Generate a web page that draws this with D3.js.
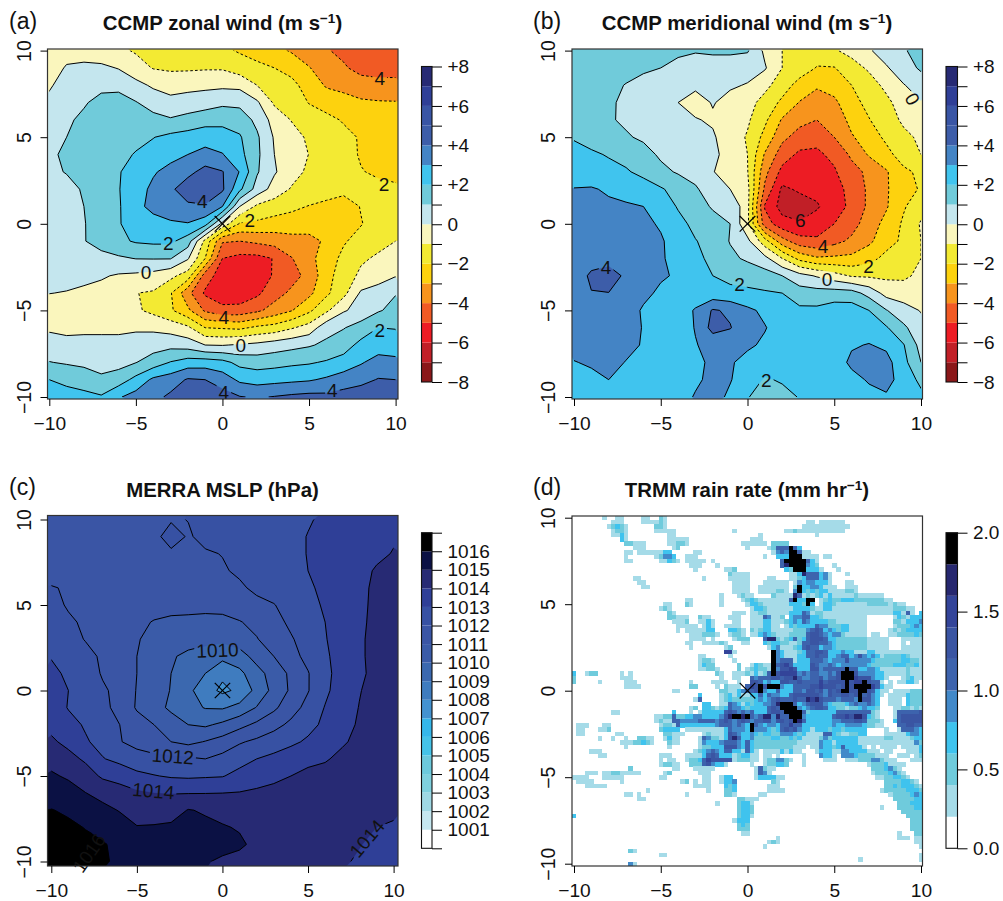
<!DOCTYPE html>
<html>
<head>
<meta charset="utf-8">
<script src="https://cdn.jsdelivr.net/npm/d3@7"></script>
<style>
body { margin: 0; background: #fff; }
text { font-family: "Liberation Sans", Arial, sans-serif; fill: #111; }
</style>
</head>
<body>
<script>
// rows run from y=10 down to y=-10, columns from x=-10 to x=10, every 1 degree
var zonalWind = [
[-.4,-.4,-.5,-.6,-.8,-1.1,-1.2,-1.3,-1.4,-1.6,-1.8,-2.1,-2.4,-2.7,-3.1,-3.5,-3.9,-4.3,-4.5,-4.6,-4.7],
[-.5,.1,.25,.2,-.05,-.6,-1.05,-1.15,-1.15,-1.1,-1.1,-1.5,-1.75,-2,-2.35,-2.95,-3.5,-3.85,-4.4,-4.5,-4.5],
[-.1,.35,.6,.75,.7,.3,-.15,-.4,-.28,-.23,-.2,-.25,-1,-1.55,-1.72,-2.43,-3.1,-3.25,-3.45,-3.6,-3.6],
[.2,.45,.9,1.3,1.45,1.05,.6,.3,.4,.55,.8,.75,.15,-1.15,-1.33,-2.05,-2.45,-2.68,-2.88,-2.93,-2.95],
[.55,.85,1.2,1.5,1.6,1.5,1.3,1.1,1.35,1.6,1.7,1.55,.75,-.4,-1.05,-1.4,-1.7,-2.1,-2.4,-2.55,-2.6],
[.75,1,1.3,1.55,1.7,1.8,1.97,2.25,2.4,2.6,2.45,2.1,1.15,-.1,-.65,-1.15,-1.4,-1.7,-2.1,-2.4,-2.5],
[.85,1.15,1.4,1.6,1.8,2.05,2.35,2.7,3,3.3,3.05,2.3,1.2,0,-.5,-1.02,-1.3,-1.6,-2.1,-2.4,-2.5],
[.8,1.05,1.35,1.6,1.95,2.3,2.9,3.3,3.7,4.35,4.05,2.95,1.1,.1,-.6,-1.2,-1.5,-1.65,-1.95,-2.15,-2.25],
[.4,.7,1.1,1.5,1.95,2.6,3.2,3.8,4.6,4.7,4.15,2.2,.6,-.4,-1.1,-1.25,-1.45,-1.7,-1.7,-1.75,-1.85],
[.35,.6,1,1.4,1.9,2.7,3.3,3.6,3.8,3.9,3,0,-1.2,-1.5,-1.75,-2.05,-2.3,-2.5,-1.95,-1.6,-1.5],
[.3,.55,.95,1.45,1.95,2.3,2.6,2.85,2.95,2.4,-.3,-2.1,-2.2,-2.4,-2.55,-2.7,-2.75,-2.55,-2.05,-1.6,-1.3],
[.25,.5,.95,1.4,1.8,2.1,2.2,2.2,1.5,-1.3,-3.9,-4,-3.8,-3.6,-3.3,-3.2,-2.9,-2.1,-1.65,-1.3,-1],
[.5,.5,.6,.67,.85,1.03,1.05,1.05,.1,-2,-5,-5.3,-5.3,-4.95,-4.05,-3.3,-2.5,-1.75,-1.15,-.85,-.7],
[.4,.35,.2,.1,-.1,-.2,-.35,-.75,-1.45,-4.5,-5.5,-5.7,-5.5,-4.9,-4.35,-3.7,-2.35,-1.5,-.8,-.4,-.05],
[.02,-.05,-.15,-.3,-.4,-.98,-1.1,-1.9,-3.7,-5.15,-5.6,-5.7,-5.2,-4.4,-3.8,-3.25,-2.2,-1.3,.15,.4,.95],
[-.5,-.55,-.5,-.6,-.65,-.85,-1.25,-1.85,-2.8,-4.15,-4.7,-4.6,-4.2,-3.6,-3.05,-2.2,-1.2,-.1,.35,.9,1.3],
[-.15,-.25,-.2,-.2,-.2,-.15,-.2,-.4,-.8,-2,-2.1,-2.2,-1.8,-1.6,-1.1,-.6,.65,.95,1.4,2,1.95],
[.43,.3,.3,.3,.3,.45,.6,.7,.55,0,-.05,.1,.25,.5,.7,.9,1.2,1.55,2.3,2.5,2.5],
[1.03,.9,.8,.6,.65,.97,1.45,2.05,2.45,2.5,2.3,1.7,1.55,1.65,1.8,1.9,2.1,2.4,2.9,3.4,3.25],
[2,1.75,1.5,1.2,1.5,2.3,3.2,3.5,4.1,4,3.55,2.8,2.6,2.7,2.8,2.9,3.15,3.5,3.75,4.05,4],
[2.6,2.4,2.3,2.1,2.9,3.4,3.7,4.2,4.7,4.5,4.4,4.05,3.9,4.05,4.2,4.3,4.25,4.4,4.5,4.7,4.6]
];

var meridionalWind = [
[1.5,1.6,1.7,1.6,1.5,1.35,1.1,1.05,1.15,1.2,1.1,-.2,-1,-1.4,-1.6,-1.1,-.7,-.1,.45,.9,1.4],
[1.6,1.65,1.6,1.4,1.15,1,.85,.7,.55,.4,.3,.1,-1,-1.5,-2.05,-2.05,-1.4,-.85,-.1,.55,1.15],
[1.45,1.4,1.3,.95,.7,.5,.3,.15,.15,.1,-.05,-.7,-1.55,-2.35,-2.85,-2.6,-2,-1.45,-.75,-.05,.45],
[1.35,1.3,1.15,.8,.6,.35,0,-.3,.05,-.25,-.6,-1.4,-2.2,-3.05,-3.55,-3.2,-2.35,-1.7,-1.25,-.5,-.05],
[1.25,1.2,1.1,.85,.6,.4,.2,.05,-.1,-.55,-.85,-1.8,-3.1,-3.7,-4,-3.65,-2.7,-2.05,-1.4,-.85,-.25],
[1.95,1.75,1.5,1.1,.85,.6,.45,.3,.1,-.45,-1.1,-2.3,-3.75,-4.4,-4.75,-4,-3.1,-2.5,-1.8,-1.2,-.85],
[2.2,2.1,1.95,1.7,1.35,.85,.65,.4,.15,-.25,-1,-3.1,-4.5,-5.2,-5.15,-4.8,-3.8,-2.9,-2.3,-1.55,-1],
[2.35,2.3,2.2,2.1,1.75,1.25,.9,.55,.05,-.5,-.95,-3.7,-5.3,-5.6,-5.6,-5.1,-4.4,-3.75,-3.1,-2.2,-1.8],
[3.05,3.1,2.85,2.7,2.45,2.1,1.65,1.15,.35,0,-.7,-4.2,-6.2,-5.85,-5.75,-5.3,-4.75,-3.8,-3.1,-2.4,-1.9],
[3.2,3.25,3.2,3.1,3,2.7,1.9,1.4,.9,.9,-.7,-5.1,-6.4,-6.5,-6.1,-5.5,-4.75,-3.8,-3.1,-2.1,-1.4],
[3.3,3.45,3.45,3.35,3.2,2.9,2.35,1.7,1.35,1,-.8,-4.5,-5.6,-5.9,-5.6,-5,-4.4,-3.5,-2.7,-1.85,-.9],
[3.25,3.4,3.5,3.5,3.3,3.1,2.6,2.05,1.6,.95,.25,-1.6,-3.6,-4.6,-4.8,-4.3,-3.8,-3.2,-2.4,-1.8,-1],
[3.2,3.4,3.6,3.55,3.35,3.1,2.7,2.25,1.75,1.2,.85,.3,-1,-2.3,-2.85,-2.8,-2.75,-2.35,-1.7,-1.35,-1],
[3.2,4.25,4.5,3.8,3.35,3.1,2.9,2.45,2,1.8,1.6,1.45,1,.35,-.1,-.6,-1.1,-1.15,-1.2,-1.2,-.75],
[3.2,3.95,3.98,3.6,3.2,2.85,2.55,2.4,2.35,2.2,2.2,2.1,2,1.45,1.4,1.45,1.4,.65,-.35,-.45,-.6],
[3.3,3.5,3.6,3.4,2.9,2.6,2.45,3.1,4.1,3.85,3.2,2.8,2.6,2.2,2.2,2.5,2.5,2,1.05,.35,-.05],
[3.4,3.5,3.55,3.4,2.95,2.6,2.5,3.05,4.35,4.05,3.4,3.05,2.6,2.55,2.55,2.6,2.6,2.5,2.1,1.2,.3],
[3.45,3.55,3.5,3.35,2.9,2.6,2.5,2.95,3.3,3.3,3.15,2.85,2.6,2.5,2.5,2.6,2.9,3.05,2.8,2.05,.65],
[2.95,3.15,3.4,2.95,2.6,2.4,2.4,2.7,3.25,3.1,2.7,2.5,2.35,2.35,2.4,2.5,3.2,3.5,3.35,2.3,1],
[2.5,2.7,3,2.7,2.5,2.35,2.3,2.8,3.3,3.05,2.55,1.9,2.1,2.3,2.45,2.6,2.7,3.1,3.4,2.5,1.8],
[2.4,2.5,2.55,2.5,2.4,2.3,2.5,3.1,3.3,2.85,2.05,1.6,1.7,2.05,2.4,2.5,2.6,2.7,2.85,2.5,2.2]
];

// hPa above 1000
var mslpAbove1000 = [
[11.6,11.6,11.6,11.6,11.65,11.7,11.75,11.9,12.02,12.2,12.3,12.4,12.5,12.6,12.75,12.95,13.1,13.2,13.3,13.4,13.5],
[11.6,11.6,11.6,11.65,11.7,11.75,11.7,12.45,11.9,12.25,12.4,12.5,12.6,12.7,12.85,13.02,13.15,13.3,13.45,13.65,13.9],
[11.5,11.5,11.55,11.6,11.65,11.7,11.75,11.8,11.85,11.9,12.03,12.35,12.55,12.7,12.85,13.02,13.2,13.35,13.55,13.8,14.05],
[11.35,11.4,11.45,11.5,11.55,11.6,11.65,11.7,11.75,11.85,11.9,12.15,12.4,12.6,12.8,13,13.2,13.4,13.7,14.1,14.15],
[12.1,11.85,11.7,11.65,11.6,11.55,11.5,11.5,11.55,11.65,11.7,11.85,12.2,12.5,12.8,12.9,13.15,13.4,13.75,14.2,14.3],
[12.3,11.9,11.75,11.65,11.55,11.45,11.35,11.25,11.2,11.25,11.3,11.5,11.75,11.95,12.45,12.75,13.1,13.4,13.8,14.2,14.3],
[12.55,12.15,11.85,11.7,11.45,11.2,10.95,10.85,10.85,10.75,10.75,10.95,11.25,11.65,12.2,12.65,13,13.4,13.85,14.2,14.35],
[12.75,12.35,11.95,11.7,11.4,11.05,10.8,10.55,10.35,10.2,10.2,10.5,10.95,11.45,11.9,12.45,12.95,13.4,13.9,14.2,14.4],
[12.95,12.65,12.3,11.85,11.55,11,10.65,10.1,9.8,9.7,9.3,9.6,10.35,11,11.7,12.25,12.85,13.4,13.9,14.2,14.4],
[13.2,12.85,12.55,11.9,11.55,11,10.6,10,9.45,9,8.2,8.75,9.65,10.4,11.2,11.95,12.75,13.4,13.8,14.3,14.45],
[13.4,13,12.7,12.15,11.7,10.95,10.5,9.95,9.25,8.4,7.8,8.2,9.3,10.3,11.15,11.95,12.8,13.5,13.95,14.35,14.5],
[13.5,12.95,12.55,12.25,11.7,10.9,10.4,9.8,9.3,8.95,8.9,9.3,10.05,10.8,11.6,12.3,13.05,13.55,14.03,14.4,14.5],
[13.75,13.3,12.9,12.6,12,11.4,11,10.5,10,9.85,10.2,10.7,11.2,11.7,12.2,12.7,13.2,13.7,14.1,14.35,14.5],
[14.15,13.75,13.1,12.7,12.05,11.7,11.35,11,10.75,11.05,11.4,11.9,12.2,12.5,12.8,13.15,13.55,13.9,14.2,14.4,14.5],
[14.75,14.3,13.85,13.05,12.75,12.4,12.3,12.2,12.15,12,12.3,12.65,13,13.25,13.55,13.8,13.92,14.2,14.35,14.45,14.55],
[15.1,14.9,14.45,13.85,13.6,13.25,13.05,12.9,12.85,12.9,12.95,13.3,13.6,13.8,14,14.2,14.3,14.4,14.5,14.55,14.6],
[15.4,15.3,15.02,14.7,14.45,14.15,14,13.97,13.97,13.98,14,14.05,14.15,14.25,14.35,14.4,14.5,14.55,14.6,14.65,14.7],
[16.05,15.8,15.55,15.25,14.95,14.55,14.45,14.5,15.05,14.9,14.8,14.75,14.7,14.7,14.7,14.7,14.65,14.6,14.5,14.3,14.15],
[16.5,16.25,15.95,15.7,15.4,15.05,15.1,15.2,15.3,15.2,15.05,14.95,14.8,14.7,14.6,14.55,14.45,14.35,14.2,14,13.9],
[16.7,16.5,16.3,16.1,15.7,15.4,15.35,15.35,15.3,15.3,15.2,15.1,14.85,14.7,14.55,14.45,14.35,14.2,14.05,13.75,13.75],
[16.8,16.6,16.45,16.1,15.85,15.6,15.5,15.4,15.3,15.05,14.9,14.8,14.7,14.55,14.45,14.35,14.25,14.15,13.85,13.7,13.6]
];

// TRMM cells on a 0.25 degree grid, one entry per row from y=10 down.
// each run is [first column, band digits], bands: 0 = 0-0.2 ... 9 = 1.8-2.0 mm/hr
var rainRuns = [
[[7,"1"],[10,"11"],[16,"11"],[20,"21"]],
[[9,"111"],[16,"1111"],[20,"21"],[54,"11"],[57,"111111"]],
[[8,"12321"],[19,"221"],[53,"11111111111"]],
[[9,"1221"],[19,"11111"],[37,"1"],[49,"112"],[52,"11111111111"]],
[[9,"1131"],[22,"11"],[43,"1"],[56,"1"]],
[[11,"31"],[22,"11111"],[41,"111"]],
[[12,"22111"],[22,"11221"],[39,"11"],[41,"1111"],[46,"2222"]],
[[14,"111"],[23,"12"],[40,"1"],[45,"12"],[47,"555"],[50,"953"]],
[[12,"11"],[15,"111111"],[21,"33"],[28,"11"],[46,"1"],[47,"45499511"]],
[[12,"1"],[19,"12443"],[26,"111"],[44,"1"],[47,"333"],[50,"999"],[53,"1111"],[58,"11"]],
[[12,"11"],[20,"11321"],[26,"11111"],[32,"1"],[48,"599999"],[54,"531"]],
[[27,"111"],[33,"1"],[48,"589999"],[54,"432"],[60,"1"]],
[[28,"1"],[35,"112"],[49,"32999"],[54,"3331"],[61,"1"]],
[[36,"21111"],[50,"11"],[52,"38555341"],[63,"1"]],
[[14,"11"],[30,"1"],[36,"11111"],[45,"11"],[50,"11"],[52,"23555341"]],
[[15,"11"],[37,"1111"],[44,"111111"],[51,"143443331"],[63,"11"]],
[[16,"11"],[37,"1111"],[43,"1111111"],[51,"2933443111"],[63,"111"]],
[[37,"1111"],[43,"1111221"],[51,"49323233"],[59,"1111221"]],
[[34,"1"],[38,"121"],[41,"1"],[46,"21111"],[51,"85121231"],[59,"3111112"],[66,"111111"]],
[[26,"11"],[34,"1"],[39,"12"],[41,"32"],[43,"1111111"],[50,"593399"],[57,"12322333"],[65,"2222222"],[72,"11"]],
[[21,"11"],[26,"21"],[34,"1"],[40,"1"],[41,"33"],[43,"2111111"],[50,"333293"],[57,"13321"],[62,"111111"],[68,"2222212"],[75,"11"]],
[[20,"121"],[41,"1332111111"],[51,"333321133"],[60,"1111111111"],[70,"111122211"]],
[[22,"21"],[37,"111"],[41,"112211111"],[50,"33354122"],[58,"1111111111111111"],[74,"33151"],[80,"3"]],
[[22,"22111"],[29,"211"],[36,"111"],[41,"111"],[44,"54"],[46,"112"],[50,"34455"],[55,"33211"],[60,"11111111"],[74,"1321333"]],
[[23,"1112"],[29,"1131"],[37,"11"],[41,"111"],[44,"33"],[46,"1112"],[50,"34354"],[55,"333322"],[61,"1111111"],[74,"2213334"]],
[[24,"11111"],[30,"1"],[31,"31"],[35,"1111"],[41,"111"],[44,"3311"],[49,"1"],[50,"323"],[53,"33354422"],[61,"2331111"],[74,"1222343"]],
[[24,"1"],[26,"11111"],[31,"33"],[36,"3321"],[41,"21233"],[46,"11111"],[51,"2224565"],[58,"343233"],[64,"1111"],[73,"12123333"]],
[[27,"111"],[30,"2221"],[36,"1221"],[41,"113432"],[47,"111"],[50,"2222"],[54,"56654"],[59,"34421"],[64,"1111"],[69,"11"],[73,"11222232"]],
[[27,"1111"],[32,"1"],[37,"1222"],[44,"588"],[47,"2123"],[51,"52356665"],[59,"332222222"],[68,"11111"],[76,"11111"]],
[[26,"11"],[30,"1111"],[34,"21"],[39,"11"],[44,"3233"],[48,"2211"],[52,"255665"],[58,"543"],[61,"2222222"],[68,"11111"],[76,"1"],[78,"111"]],
[[27,"1"],[35,"12"],[45,"1341"],[49,"11"],[51,"2356"],[55,"55344"],[60,"3"],[61,"2222222"],[68,"11111"],[76,"11111"]],
[[35,"77"],[37,"1"],[46,"9"],[47,"43"],[49,"111"],[52,"23556"],[57,"65333"],[62,"433"],[65,"111"],[68,"33"],[70,"11111111111"]],
[[29,"11"],[36,"1"],[46,"943"],[49,"111"],[52,"3355"],[56,"65533"],[61,"45534"],[66,"64343"],[71,"12222"],[76,"32111"]],
[[29,"1221"],[37,"1"],[46,"94555"],[51,"1333"],[55,"55543"],[60,"44464"],[65,"44443"],[70,"222222"],[76,"33221"]],
[[29,"1322"],[38,"2"],[41,"13211"],[46,"95675"],[51,"3333"],[55,"65445"],[60,"43444"],[65,"4443"],[69,"22222"],[74,"33322"],[79,"31"]],
[[29,"11221"],[38,"2"],[40,"1"],[41,"23221"],[46,"94667"],[51,"6333"],[55,"66455"],[60,"55595"],[65,"53344"],[70,"3"],[71,"111111"],[77,"2111"]],
[[0,"3"],[3,"122"],[11,"1"],[13,"1"],[33,"21"],[37,"1112"],[41,"13125"],[46,"96777"],[51,"7454"],[55,"55445"],[60,"46999"],[65,"64444"],[70,"33"],[72,"111112111"]],
[[0,"2"],[11,"111"],[34,"1"],[37,"11"],[41,"54555"],[46,"66566"],[51,"8544"],[55,"55645"],[60,"56999"],[65,"76664"],[70,"33"],[72,"1"],[76,"12311"]],
[[0,"2"],[6,"1"],[12,"111"],[27,"1"],[32,"1111"],[38,"1"],[41,"66534"],[46,"33665"],[51,"5655"],[55,"55756"],[60,"66696"],[65,"77965"],[70,"51"],[73,"1"],[75,"11331"]],
[[12,"1111"],[27,"22"],[33,"1"],[35,"2111"],[40,"5"],[41,"76969"],[46,"99433"],[51,"5555"],[55,"66766"],[60,"65696"],[65,"99997"],[70,"5311"]],
[[23,"11"],[34,"22113"],[39,"45"],[41,"56943"],[46,"35333"],[51,"5546"],[55,"65646"],[60,"56996"],[65,"69965"],[70,"311"],[74,"11112"],[79,"22"]],
[[29,"3"],[34,"1231"],[38,"311"],[41,"33535"],[46,"44335"],[51,"6666"],[55,"66546"],[60,"55665"],[65,"69564"],[70,"31"],[73,"1111"],[77,"3222"]],
[[28,"15"],[34,"1232222"],[41,"23434"],[46,"56555"],[51,"6558"],[55,"78655"],[60,"54555"],[65,"49664"],[70,"3"],[73,"111"],[77,"3222"]],
[[30,"33"],[34,"1154313"],[41,"23344"],[46,"58999"],[51,"5345"],[55,"66643"],[60,"22234"],[65,"54454"],[70,"3"],[73,"111"],[77,"3222"]],
[[27,"12"],[30,"3321"],[34,"2354432"],[41,"33335"],[46,"65999"],[51,"9434"],[55,"56653"],[60,"32212"],[65,"23433"],[70,"2"],[74,"1122121"]],
[[9,"11"],[23,"3"],[27,"1"],[29,"13333"],[34,"3565454"],[41,"53335"],[46,"66599"],[51,"9952"],[55,"33333"],[60,"35555"],[65,"55552"],[70,"1"],[74,"1"],[75,"555556"]],
[[19,"11225"],[24,"22334433"],[32,"33"],[34,"4689989"],[41,"54588"],[46,"48559"],[51,"9943"],[55,"33333"],[60,"56676"],[65,"88632"],[70,"1"],[74,"1"],[75,"566666"]],
[[19,"12115"],[24,"54444"],[29,"55554"],[34,"5654565"],[41,"45566"],[46,"46656"],[51,"9853"],[55,"33333"],[60,"44555"],[65,"66522"],[70,"21"],[74,"3"],[75,"566666"]],
[[1,"111"],[7,"11"],[20,"12215"],[25,"33333333"],[33,"4"],[34,"5554543"],[41,"95434"],[46,"43557"],[51,"5533"],[55,"33333"],[60,"43344"],[65,"44322"],[70,"11"],[75,"556655"]],
[[1,"11"],[6,"112"],[20,"23333"],[26,"11111111"],[34,"1354443"],[41,"94443"],[46,"23565"],[51,"6433"],[55,"13332"],[60,"33233"],[65,"333"],[72,"1"],[75,"155543"]],
[[1,"11"],[10,"11"],[21,"22111"],[30,"12"],[32,"111"],[35,"365433"],[41,"43233"],[46,"22444"],[51,"3231"],[55,"11155"],[60,"32112"],[65,"233"],[72,"11111"],[77,"3443"]],
[[6,"1"],[9,"1"],[12,"1"],[15,"2211"],[21,"1311"],[29,"15422"],[34,"1368533"],[41,"42222"],[46,"33223"],[51,"2311"],[55,"11242"],[60,"33333"],[65,"3111111"],[72,"221111233"]],
[[11,"111"],[14,"22321"],[22,"211"],[29,"14333"],[34,"4555435"],[41,"32222"],[46,"22222"],[51,"2111"],[55,"11433"],[60,"13333"],[65,"3111111"],[72,"111111142"]],
[[12,"1"],[22,"1"],[29,"12233"],[34,"3666435"],[41,"32222"],[46,"22222"],[51,"1110"],[55,"11433"],[60,"23533"],[65,"33101"],[71,"1111"],[76,"11113"]],
[[4,"111"],[28,"12345"],[33,"43553315"],[41,"31"],[44,"11113131"],[52,"1"],[56,"13331"],[61,"14433"],[66,"33111"],[72,"11"],[77,"1113"]],
[[6,"11"],[20,"111"],[26,"1111"],[30,"35653"],[35,"33123"],[40,"3"],[41,"11"],[44,"11"],[47,"1"],[53,"1"],[57,"4331"],[62,"4443"],[66,"2222111"],[75,"111"],[79,"12"]],
[[20,"1"],[22,"11"],[26,"12235"],[31,"766666"],[37,"1222"],[41,"11"],[44,"12244"],[49,"21"],[53,"1"],[58,"111"],[63,"11122"],[68,"24421"],[73,"11"],[78,"111"]],
[[20,"12211"],[27,"2225"],[31,"64331"],[41,"1"],[44,"122332"],[53,"1"],[68,"122231111"]],
[[13,"2"],[23,"11"],[28,"11111"],[42,"15211"],[69,"2223421"]],
[[3,"111"],[7,"112211111"],[21,"12"],[29,"111"],[42,"1541"],[69,"12223421"]],
[[0,"1111"],[7,"11111"],[20,"11"],[30,"11"],[34,"133"],[42,"1333311"],[70,"11223321"]],
[[1,"1111"],[11,"1"],[25,"12"],[28,"1"],[30,"11"],[34,"1334"],[46,"21"],[72,"22223321"]],
[[3,"11111"],[28,"1111"],[35,"323"],[45,"111"],[72,"223233321"]],
[[17,"1"],[31,"1"],[35,"223"],[45,"1111"],[71,"1222223332"]],
[[12,"11"],[15,"1"],[26,"1"],[35,"221"],[43,"11"],[73,"12222343"]],
[[15,"11"],[38,"221"],[41,"11"],[74,"2222233"]],
[[33,"1"],[38,"233"],[41,"1"],[75,"222333"]],
[[38,"233"],[41,"2"],[71,"1"],[75,"222233"]],
[[38,"233"],[41,"2"],[76,"22222"]],
[[0,"3"],[38,"233"],[41,"1"],[77,"2222"]],
[[37,"1333"],[78,"222"]],
[[38,"232"],[78,"222"]],
[[38,"222"],[78,"222"]],
[[39,"11"],[75,"1"],[79,"22"]],
[[47,"1"],[75,"111"],[79,"11"]],
[[45,"121"],[79,"11"]],
[[44,"1"],[80,"1"]],
[[13,"21"]],
[[20,"11"],[80,"1"]],
[[66,"1"],[80,"1"]],
[[13,"41"]]
];

// contour labels: x, y, text, angle
var zonalLabels = [[9.08,8.4,"4",0],[9.33,2.31,"2",0],[1.58,.23,"2",0],[-1.17,1.29,"4",0],[-3.13,-1.12,"2",0],[-4.42,-2.81,"0",0],[.08,-5.38,"4",0],[1.06,-7.02,"0",0],[9.08,-6.12,"2",0],[.08,-9.73,"4",0],[6.35,-9.62,"4",0]];
var meridionalLabels = [[9.52,7.21,"0",60],[3.04,.23,"6",0],[4.35,-1.27,"4",0],[6.98,-2.46,"2",0],[4.58,-3.19,"0",0],[-.46,-3.46,"2",0],[-8.15,-2.5,"4",0],[1.08,-9,"2",0]];
var mslpLabels = [[-.29,2.36,"1010",-2],[-2.9,-3.84,"1012",4],[-4.04,-5.87,"1014",5],[8.44,-8.65,"1014",-50],[-7.8,-9.5,"1016",-55]];

var windColors = ["#8a1719","#c11f27","#ed1c24","#f15a24","#f7941d","#fdd20e","#f3ea33","#faf6bd","#c4e6ee","#70cbda","#40c4ee","#4484c5","#3d5da9","#3955a5","#2f3f97","#272a74"];
var mslpColors = ["#ffffff","#c5e7f0","#9fd8e4","#7fd0de","#6cc9dc","#45c3e8","#35b7ea","#4392d0","#3f7cbf","#3b68af","#3a5ba8","#3a55a5","#3751a3","#2f3f97","#272a74","#0b1144","#000000"];
var rainColors = ["#ffffff","#a5dbe8","#6fcbdc","#3fc3ee","#4289c9","#3d63ad","#3a55a3","#334499","#26276f","#000000"];

var windLevels = d3.range(-8, 9);
var mslpLevels = d3.range(0, 18);
var rainLevels = d3.range(0, 11).map(function(d){ return d/5; });
var axisTicks = [-10, -5, 0, 5, 10];

var fmt = function(d){ return d < 0 ? "\u2212" + (-d) : "" + d; };
var windTick = function(d){ return d % 2 ? "" : (d > 0 ? "+" + d : fmt(d)); };
var mslpTick = function(d){ return d >= 1 && d <= 16 ? "" + (1000 + d) : ""; };
var rainTick = function(d){ return d3.format(".1f")(d); };

var panels = [
  {id:"a", title:"CCMP zonal wind (m s", sup:"\u22121", tail:")", grid:zonalWind, labels:zonalLabels, colors:windColors, levels:windLevels, barTicks:windLevels, tick:windTick,
   box:[47.5,398,49,399], xr:[49.3,395.6], yr:[50.6,397], bar:[421.5,432,66.5,382], tx:222.5, ty:30, lx:9, ly:29},
  {id:"b", title:"CCMP meridional wind (m s", sup:"\u22121", tail:")", grid:meridionalWind, labels:meridionalLabels, colors:windColors, levels:windLevels, barTicks:windLevels, tick:windTick,
   box:[572,922.5,49,399], xr:[574,921], yr:[50.6,397], bar:[946,957.5,66.5,382], tx:747, ty:30, lx:533, ly:29},
  {id:"c", title:"MERRA MSLP (hPa)", sup:"", tail:"", grid:mslpAbove1000, labels:mslpLabels, colors:mslpColors, levels:mslpLevels, barTicks:mslpLevels, tick:mslpTick,
   box:[47.5,398,515.5,866], xr:[51.3,393.6], yr:[519.5,861.5], bar:[421.5,432,532.7,848.3], tx:222.5, ty:496.5, lx:9, ly:495},
  {id:"d", title:"TRMM rain rate (mm hr", sup:"\u22121", tail:")", rain:rainRuns, colors:rainColors, levels:rainLevels, barTicks:[0,.5,1,1.5,2], tick:rainTick,
   box:[572,922.5,516,866], xr:[574,921], yr:[517.7,863.7], bar:[946,957.5,532.7,848.3], tx:747, ty:496.5, lx:533, ly:495}
];

var svg = d3.select("body").append("svg").attr("width",1003).attr("height",901).style("display","block");
var defs = svg.append("defs");

panels.forEach(function(p){
  var xs = d3.scaleLinear().domain([-10,10]).range(p.xr);
  var ys = d3.scaleLinear().domain([10,-10]).range(p.yr);
  var g = svg.append("g").attr("class","panel"+p.id);

  defs.append("clipPath").attr("id","box"+p.id).append("rect")
      .attr("x",p.box[0]).attr("y",p.box[2]).attr("width",p.box[1]-p.box[0]).attr("height",p.box[3]-p.box[2]);
  defs.append("clipPath").attr("id","grid"+p.id).append("rect")
      .attr("x",p.xr[0]).attr("y",p.yr[0]).attr("width",p.xr[1]-p.xr[0]).attr("height",p.yr[1]-p.yr[0]);

  var plot = g.append("g").attr("clip-path","url(#box"+p.id+")");

  if (p.grid) {
    var flat = d3.merge(p.grid);
    var thresholds = p.levels.slice(0, -1);
    var shapes = d3.contours().size([21,21]).thresholds(thresholds)(flat);
    // contour coords put grid value i at i+0.5
    var path = d3.geoPath(d3.geoTransform({point:function(x,y){
      this.stream.point(xs(x-10.5), ys(10.5-y));
    }}));

    plot.selectAll("path.band").data(shapes).enter().append("path")
        .attr("class","band")
        .attr("d",path)
        .attr("fill",function(d,i){ return p.colors[i]; })
        .attr("stroke",function(d,i){ return p.colors[i]; })
        .attr("stroke-width",.3);

    // gaps in the lines under the labels
    var mask = defs.append("mask").attr("id","gaps"+p.id).attr("maskUnits","userSpaceOnUse")
        .attr("x",0).attr("y",0).attr("width",1003).attr("height",901);
    mask.append("rect").attr("width",1003).attr("height",901).attr("fill","#fff");
    mask.selectAll("rect.gap").data(p.labels).enter().append("rect")
        .attr("class","gap")
        .attr("x",function(d){ return -d[2].length*5.3-2; })
        .attr("y",-8.5)
        .attr("width",function(d){ return d[2].length*10.6+4; })
        .attr("height",17)
        .attr("fill","#000")
        .attr("transform",function(d){ return "translate("+xs(d[0])+","+ys(d[1])+") rotate("+d[3]+")"; });

    var lineLevels = shapes.filter(function(d){ return d.value > p.levels[0]; });
    plot.append("g").attr("clip-path","url(#grid"+p.id+")")
      .append("g").attr("mask","url(#gaps"+p.id+")")
      .selectAll("path.line").data(lineLevels).enter().append("path")
        .attr("class","line")
        .attr("d",path)
        .attr("fill","none")
        .attr("stroke","#000")
        .attr("stroke-width",1)
        .attr("stroke-dasharray",function(d){ return d.value < 0 ? "2.6,2.2" : null; });

    g.selectAll("text.clabel").data(p.labels).enter().append("text")
        .attr("class","clabel")
        .attr("text-anchor","middle")
        .attr("dy",".36em")
        .attr("font-size",19)
        .attr("transform",function(d){ return "translate("+xs(d[0])+","+ys(d[1])+") rotate("+d[3]+")"; })
        .text(function(d){ return d[2]; });
  } else {
    var cells = [];
    p.rain.forEach(function(row, r){
      row.forEach(function(run){
        run[1].split("").forEach(function(c, k){
          if (+c > 0) cells.push({x:-10+.25*(run[0]+k), y:10-.25*r, band:+c});
        });
      });
    });
    plot.selectAll("rect.cell").data(cells).enter().append("rect")
        .attr("class","cell")
        .attr("x",function(d){ return xs(d.x-.125); })
        .attr("y",function(d){ return ys(d.y+.125); })
        .attr("width",xs(.25)-xs(0)+.2)
        .attr("height",ys(-.25)-ys(0)+.2)
        .attr("shape-rendering","crispEdges")
        .attr("fill",function(d){ return p.colors[d.band]; });
  }

  // X at the storm centre
  [[-.45,.45,.45,-.45],[-.45,-.45,.45,.45]].forEach(function(s){
    g.append("line").attr("x1",xs(s[0])).attr("y1",ys(s[1])).attr("x2",xs(s[2])).attr("y2",ys(s[3]))
        .attr("stroke","#000").attr("stroke-width",1.2);
  });

  g.append("rect").attr("x",p.box[0]).attr("y",p.box[2]).attr("width",p.box[1]-p.box[0]).attr("height",p.box[3]-p.box[2])
      .attr("fill","none").attr("stroke","#333").attr("stroke-width",1.2);

  // axes
  var xa = g.append("g").attr("transform","translate(0,"+p.box[3]+")")
      .call(d3.axisBottom(xs).tickValues(axisTicks).tickSize(7).tickPadding(10).tickFormat(fmt));
  var ya = g.append("g").attr("transform","translate("+p.box[0]+",0)")
      .call(d3.axisLeft(ys).tickValues(axisTicks).tickSize(7).tickFormat(fmt));
  xa.selectAll("text").attr("font-size",19.2);
  ya.selectAll("text").attr("font-size",19.5)
      .attr("transform","rotate(-90)").attr("text-anchor","middle")
      .attr("x",0).attr("y",-17).attr("dy",0);
  xa.select(".domain").remove();
  ya.select(".domain").remove();

  // titles
  var title = g.append("text").attr("x",p.tx).attr("y",p.ty).attr("text-anchor","middle")
      .attr("font-size",20.4).attr("font-weight","bold").text(p.title);
  if (p.sup) {
    title.append("tspan").attr("font-size",13.5).attr("dy",-7).text(p.sup);
    title.append("tspan").attr("dy",7).text(p.tail);
  }
  g.append("text").attr("x",p.lx).attr("y",p.ly).attr("font-size",23).text("("+p.id+")");

  // colour bar
  var bs = d3.scaleLinear().domain([p.levels[0],p.levels[p.levels.length-1]]).range([p.bar[3],p.bar[2]]);
  g.selectAll("rect.key").data(p.colors).enter().append("rect")
      .attr("class","key")
      .attr("x",p.bar[0])
      .attr("y",function(d,i){ return bs(p.levels[i+1]); })
      .attr("width",p.bar[1]-p.bar[0])
      .attr("height",function(d,i){ return bs(p.levels[i])-bs(p.levels[i+1]); })
      .attr("fill",function(d){ return d; });
  g.append("rect").attr("x",p.bar[0]).attr("y",p.bar[2]).attr("width",p.bar[1]-p.bar[0]).attr("height",p.bar[3]-p.bar[2])
      .attr("fill","none").attr("stroke","#111").attr("stroke-width",1.1);
  var ba = g.append("g").attr("transform","translate("+p.bar[1]+",0)")
      .call(d3.axisRight(bs).tickValues(p.barTicks).tickSize(10).tickPadding(5.5).tickFormat(p.tick));
  ba.select(".domain").remove();
  ba.selectAll("text").attr("font-size",19);
});
</script>
</body>
</html>
